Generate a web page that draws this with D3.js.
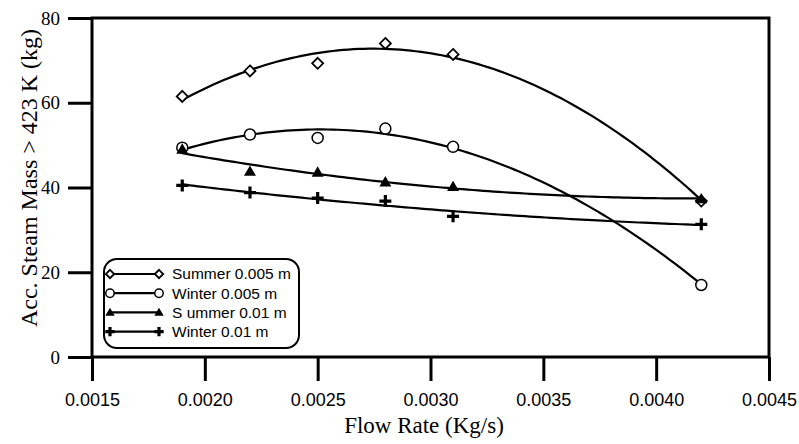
<!DOCTYPE html>
<html>
<head>
<meta charset="utf-8">
<script src="https://cdn.jsdelivr.net/npm/d3@7"></script>
<style>
  body { margin: 0; background: #fff; }
</style>
</head>
<body>
<div id="chart"></div>
<script>
// Data
var flowRates = [0.0019, 0.0022, 0.0025, 0.0028, 0.0031, 0.0042];
var summer005 = [61.5, 67.5, 69.3, 74.0, 71.4, 36.8];
var winter005 = [49.4, 52.5, 51.7, 53.9, 49.6, 17.0];
var summer001 = [49.0, 43.8, 43.6, 41.3, 40.2, 37.3];
var winter001 = [40.5, 38.8, 37.5, 36.8, 33.2, 31.3];
var seriesNames = ["Summer 0.005 m", "Winter 0.005 m", "S ummer 0.01 m", "Winter 0.01 m"];
var xTicks = [0.0015, 0.0020, 0.0025, 0.0030, 0.0035, 0.0040, 0.0045];
var yTicks = [0, 20, 40, 60, 80];

var svgWidth = 799;
var svgHeight = 444;

var margin = { top: 18, right: 30, bottom: 87, left: 92 };
var width = 769 - margin.left;
var height = 357 - margin.top;

var svg = d3.select("#chart")
    .append("svg")
    .attr("width", svgWidth)
    .attr("height", svgHeight);

var chartGroup = svg.append("g")
    .attr("transform", `translate(${margin.left}, ${margin.top})`);

var xScale = d3.scaleLinear().domain([0.0015, 0.0045]).range([0, width]);
var yScale = d3.scaleLinear().domain([0, 80]).range([height, 0]);

// polynomial least squares trend line (like the original plotting program)
function polyFit(xs, ys, deg) {
    var us = xs.map(d => (d - 0.0028) * 10000);
    var n = deg + 1;
    var m = [];
    for (var i = 0; i < n; i++) {
        m.push([]);
        for (var j = 0; j <= n; j++) m[i].push(0);
    }
    us.forEach(function (u, p) {
        for (var i = 0; i < n; i++) {
            for (var j = 0; j < n; j++) m[i][j] += Math.pow(u, i + j);
            m[i][n] += Math.pow(u, i) * ys[p];
        }
    });
    for (var i = 0; i < n; i++) {
        for (var j = i + 1; j < n; j++) {
            var f = m[j][i] / m[i][i];
            for (var k = i; k <= n; k++) m[j][k] -= f * m[i][k];
        }
    }
    var c = [];
    for (var i = n - 1; i >= 0; i--) {
        var v = m[i][n];
        for (var k = i + 1; k < n; k++) v -= m[i][k] * c[k];
        c[i] = v / m[i][i];
    }
    return function (x) {
        var u = (x - 0.0028) * 10000, s = 0;
        for (var i = 0; i < n; i++) s += c[i] * Math.pow(u, i);
        return s;
    };
}

// marker shapes
function drawMarker(g, type, x, y, r) {
    if (type === 0) {
        g.append("path")
            .attr("d", `M${x},${y - r}L${x + r},${y}L${x},${y + r}L${x - r},${y}Z`)
            .attr("fill", "#fff").attr("stroke", "#000").attr("stroke-width", 1.8);
    } else if (type === 1) {
        g.append("circle")
            .attr("cx", x).attr("cy", y).attr("r", r)
            .attr("fill", "#fff").attr("stroke", "#000").attr("stroke-width", 1.5);
    } else if (type === 2) {
        g.append("path")
            .attr("d", `M${x},${y - r - 0.5}L${x + r + 0.5},${y + r * 0.8}L${x - r - 0.5},${y + r * 0.8}Z`)
            .attr("fill", "#000");
    } else {
        g.append("path")
            .attr("d", `M${x - r - 0.5},${y}H${x + r + 0.5}M${x},${y - r - 0.5}V${y + r + 0.5}`)
            .attr("stroke", "#000").attr("stroke-width", 3.2);
    }
}

// axes
var bottomAxis = d3.axisBottom(xScale)
    .tickValues(xTicks)
    .tickSize(24)
    .tickPadding(12)
    .tickFormat(d3.format(".4f"));
var leftAxis = d3.axisLeft(yScale)
    .tickValues(yTicks)
    .tickSize(24)
    .tickPadding(8);

var xAxis = chartGroup.append("g")
    .attr("transform", `translate(0, ${height})`)
    .call(bottomAxis);
xAxis.select(".domain").remove();
xAxis.selectAll("line").attr("stroke-width", 3);
xAxis.selectAll("text")
    .style("font-family", "'Liberation Sans', Arial, sans-serif")
    .style("font-size", "18px")
    .attr("fill", "#000");

var yAxis = chartGroup.append("g")
    .call(leftAxis);
yAxis.select(".domain").remove();
yAxis.selectAll("line").attr("stroke-width", 3);
yAxis.selectAll("text")
    .style("font-family", "'Liberation Serif', 'Times New Roman', serif")
    .style("font-size", "19px")
    .attr("fill", "#000");

// frame
chartGroup.append("rect")
    .attr("width", width)
    .attr("height", height)
    .attr("fill", "none")
    .attr("stroke", "#000")
    .attr("stroke-width", 3);

var allSeries = [summer005, winter005, summer001, winter001];

// fitted curves (2nd order)
var line = d3.line()
    .x(d => xScale(d[0]))
    .y(d => yScale(d[1]));

allSeries.forEach(function (vals) {
    var fit = polyFit(flowRates, vals, 2);
    var pts = d3.range(0, 101).map(function (i) {
        var x = flowRates[0] + (flowRates[flowRates.length - 1] - flowRates[0]) * i / 100;
        return [x, fit(x)];
    });
    chartGroup.append("path")
        .attr("d", line(pts))
        .attr("fill", "none")
        .attr("stroke", "#000")
        .attr("stroke-width", 2.2);
});

// points
allSeries.forEach(function (vals, s) {
    var g = chartGroup.append("g");
    vals.forEach(function (v, i) {
        drawMarker(g, s, xScale(flowRates[i]), yScale(v), 5.5);
    });
});

// legend
var legend = svg.append("g");
legend.append("rect")
    .attr("x", 104).attr("y", 259)
    .attr("width", 195).attr("height", 89)
    .attr("rx", 13)
    .attr("fill", "#fff")
    .attr("stroke", "#000")
    .attr("stroke-width", 2);

seriesNames.forEach(function (name, i) {
    var ly = 274 + i * 19.2;
    legend.append("line")
        .attr("x1", 110).attr("x2", 159)
        .attr("y1", ly).attr("y2", ly)
        .attr("stroke", "#000").attr("stroke-width", 2.2);
    drawMarker(legend, i, 110, ly, 4.2);
    drawMarker(legend, i, 159, ly, 4.2);
    legend.append("text")
        .attr("x", 172).attr("y", ly)
        .attr("dy", "0.35em")
        .style("font-family", "'Liberation Sans', Arial, sans-serif")
        .style("font-size", "15.5px")
        .text(name);
});

// axis titles
svg.append("text")
    .attr("x", 424).attr("y", 433)
    .attr("text-anchor", "middle")
    .style("font-family", "'Liberation Serif', 'Times New Roman', serif")
    .style("font-size", "23px")
    .text("Flow Rate (Kg/s)");

svg.append("text")
    .attr("transform", "translate(37, 178) rotate(-90)")
    .attr("text-anchor", "middle")
    .style("font-family", "'Liberation Serif', 'Times New Roman', serif")
    .style("font-size", "24px")
    .text("Acc. Steam Mass > 423 K (kg)");
</script>
</body>
</html>
